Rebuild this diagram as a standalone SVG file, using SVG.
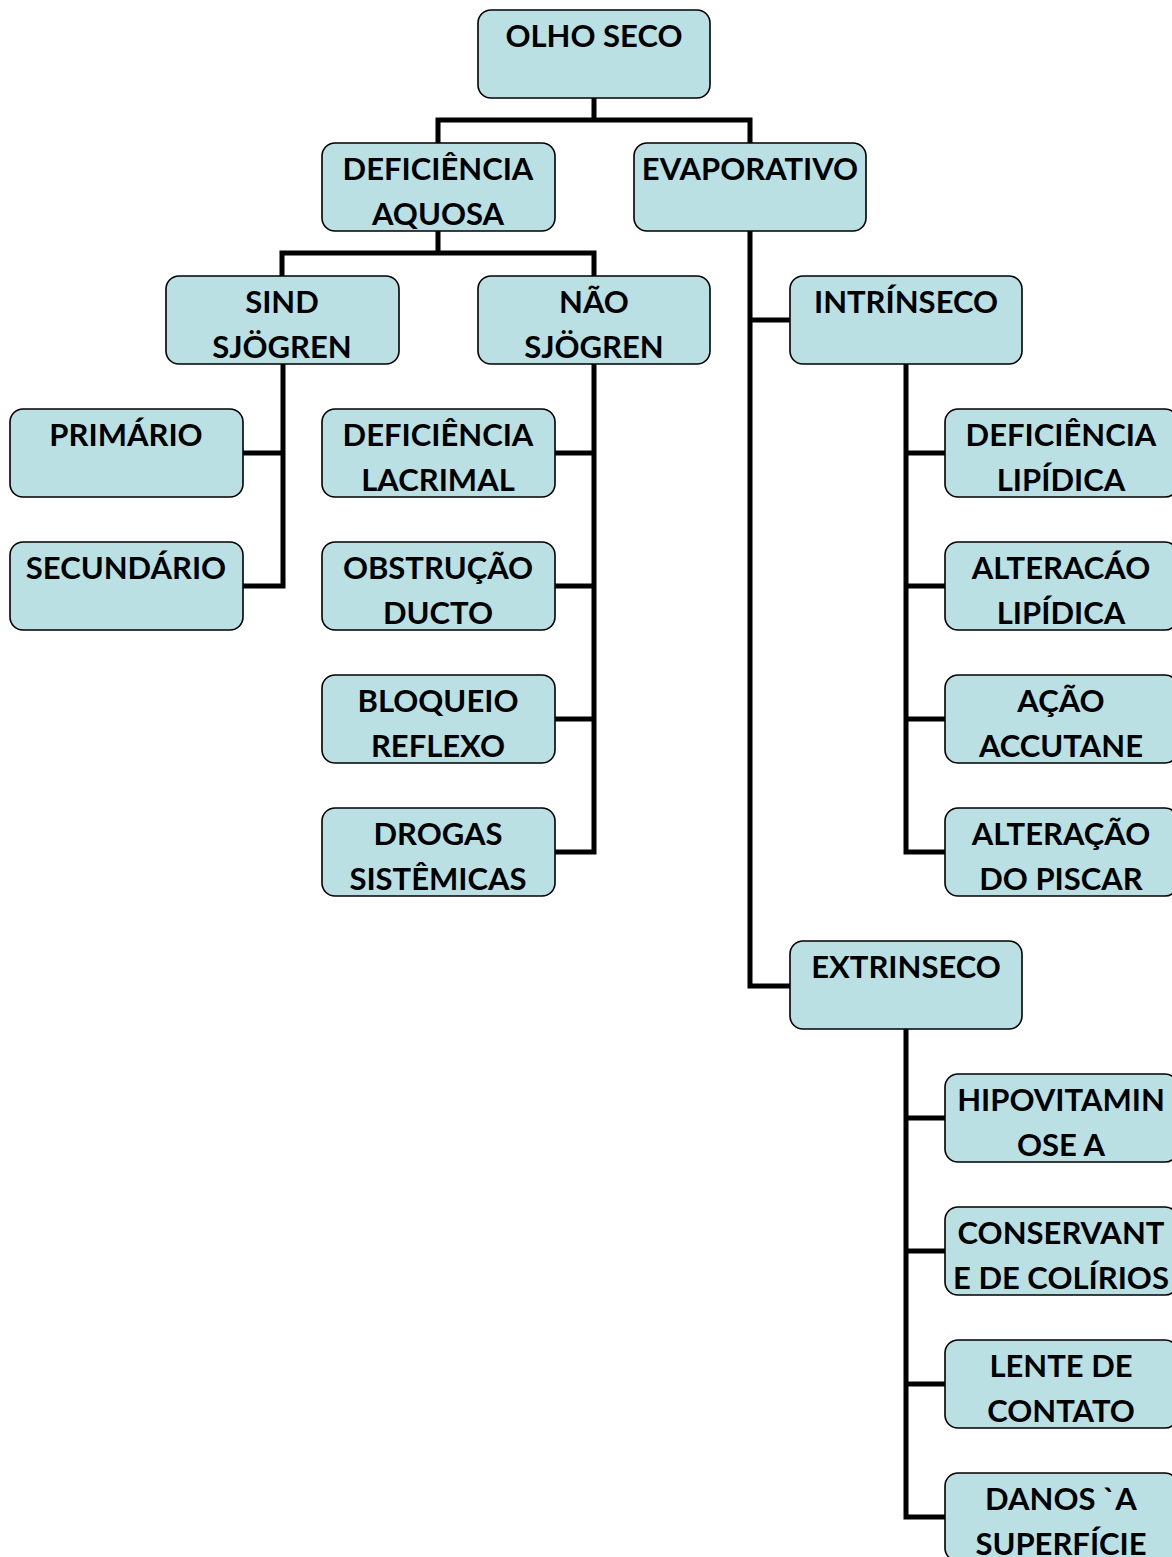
<svg xmlns="http://www.w3.org/2000/svg" width="1172" height="1557" viewBox="0 0 1172 1557">
<style>
.n rect{fill:#BBE0E3;stroke:#000;stroke-width:1.6}
.n text{font-family:"Lato","DejaVu Sans",sans-serif;font-weight:bold;font-size:31px;fill:#000;text-anchor:middle}
.c{fill:none;stroke:#000;stroke-width:5;stroke-linecap:square;stroke-linejoin:miter}
</style>
<rect width="1172" height="1557" fill="#fff"/>
<g id="connectors" class="c">
<path d="M594 98V120M438 143V120H750V143"/>
<path d="M438 231V253M282 276V253H594V276"/>
<path d="M750 231V986H790M750 320H790"/>
<path d="M283 364V586H243M243 453H283"/>
<path d="M594 364V852H555M555 453H594M555 586H594M555 719H594"/>
<path d="M906 364V852H945M906 453H945M906 586H945M906 719H945"/>
<path d="M906 1029V1517H945M906 1118H945M906 1251H945M906 1384H945"/>
</g>
<g id="olho-seco" class="n"><rect x="478" y="10" width="232" height="88" rx="13"/><text x="594" y="47">OLHO SECO</text></g>
<g id="deficiencia-aquosa" class="n"><rect x="322" y="143" width="233" height="88" rx="13"/><text x="438" y="180">DEFICIÊNCIA</text><text x="438" y="225">AQUOSA</text></g>
<g id="evaporativo" class="n"><rect x="634" y="143" width="232" height="88" rx="13"/><text x="750" y="180">EVAPORATIVO</text></g>
<g id="sind-sjogren" class="n"><rect x="166" y="276" width="233" height="88" rx="13"/><text x="282" y="313">SIND</text><text x="282" y="358">SJÖGREN</text></g>
<g id="nao-sjogren" class="n"><rect x="478" y="276" width="232" height="88" rx="13"/><text x="594" y="313">NÃO</text><text x="594" y="358">SJÖGREN</text></g>
<g id="intrinseco" class="n"><rect x="790" y="276" width="232" height="88" rx="13"/><text x="906" y="313">INTRÍNSECO</text></g>
<g id="primario" class="n"><rect x="10" y="409" width="233" height="88" rx="13"/><text x="126" y="446">PRIMÁRIO</text></g>
<g id="secundario" class="n"><rect x="10" y="542" width="233" height="88" rx="13"/><text x="126" y="579">SECUNDÁRIO</text></g>
<g id="deficiencia-lacrimal" class="n"><rect x="322" y="409" width="233" height="88" rx="13"/><text x="438" y="446">DEFICIÊNCIA</text><text x="438" y="491">LACRIMAL</text></g>
<g id="obstrucao-ducto" class="n"><rect x="322" y="542" width="233" height="88" rx="13"/><text x="438" y="579">OBSTRUÇÃO</text><text x="438" y="624">DUCTO</text></g>
<g id="bloqueio-reflexo" class="n"><rect x="322" y="675" width="233" height="88" rx="13"/><text x="438" y="712">BLOQUEIO</text><text x="438" y="757">REFLEXO</text></g>
<g id="drogas-sistemicas" class="n"><rect x="322" y="808" width="233" height="88" rx="13"/><text x="438" y="845">DROGAS</text><text x="438" y="890">SISTÊMICAS</text></g>
<g id="deficiencia-lipidica" class="n"><rect x="945" y="409" width="233" height="88" rx="13"/><text x="1061" y="446">DEFICIÊNCIA</text><text x="1061" y="491">LIPÍDICA</text></g>
<g id="alteracao-lipidica" class="n"><rect x="945" y="542" width="233" height="88" rx="13"/><text x="1061" y="579">ALTERACÁO</text><text x="1061" y="624">LIPÍDICA</text></g>
<g id="acao-accutane" class="n"><rect x="945" y="675" width="233" height="88" rx="13"/><text x="1061" y="712">AÇÃO</text><text x="1061" y="757">ACCUTANE</text></g>
<g id="alteracao-piscar" class="n"><rect x="945" y="808" width="233" height="88" rx="13"/><text x="1061" y="845">ALTERAÇÃO</text><text x="1061" y="890">DO PISCAR</text></g>
<g id="extrinseco" class="n"><rect x="790" y="941" width="232" height="88" rx="13"/><text x="906" y="978">EXTRINSECO</text></g>
<g id="hipovitaminose" class="n"><rect x="945" y="1074" width="233" height="88" rx="13"/><text x="1061" y="1111">HIPOVITAMIN</text><text x="1061" y="1156">OSE A</text></g>
<g id="conservante" class="n"><rect x="945" y="1207" width="233" height="88" rx="13"/><text x="1061" y="1244">CONSERVANT</text><text x="1061" y="1289">E DE COLÍRIOS</text></g>
<g id="lente-contato" class="n"><rect x="945" y="1340" width="233" height="88" rx="13"/><text x="1061" y="1377">LENTE DE</text><text x="1061" y="1422">CONTATO</text></g>
<g id="danos-superficie" class="n"><rect x="945" y="1473" width="233" height="88" rx="13"/><text x="1061" y="1510">DANOS `A</text><text x="1061" y="1555">SUPERFÍCIE</text></g>
</svg>
